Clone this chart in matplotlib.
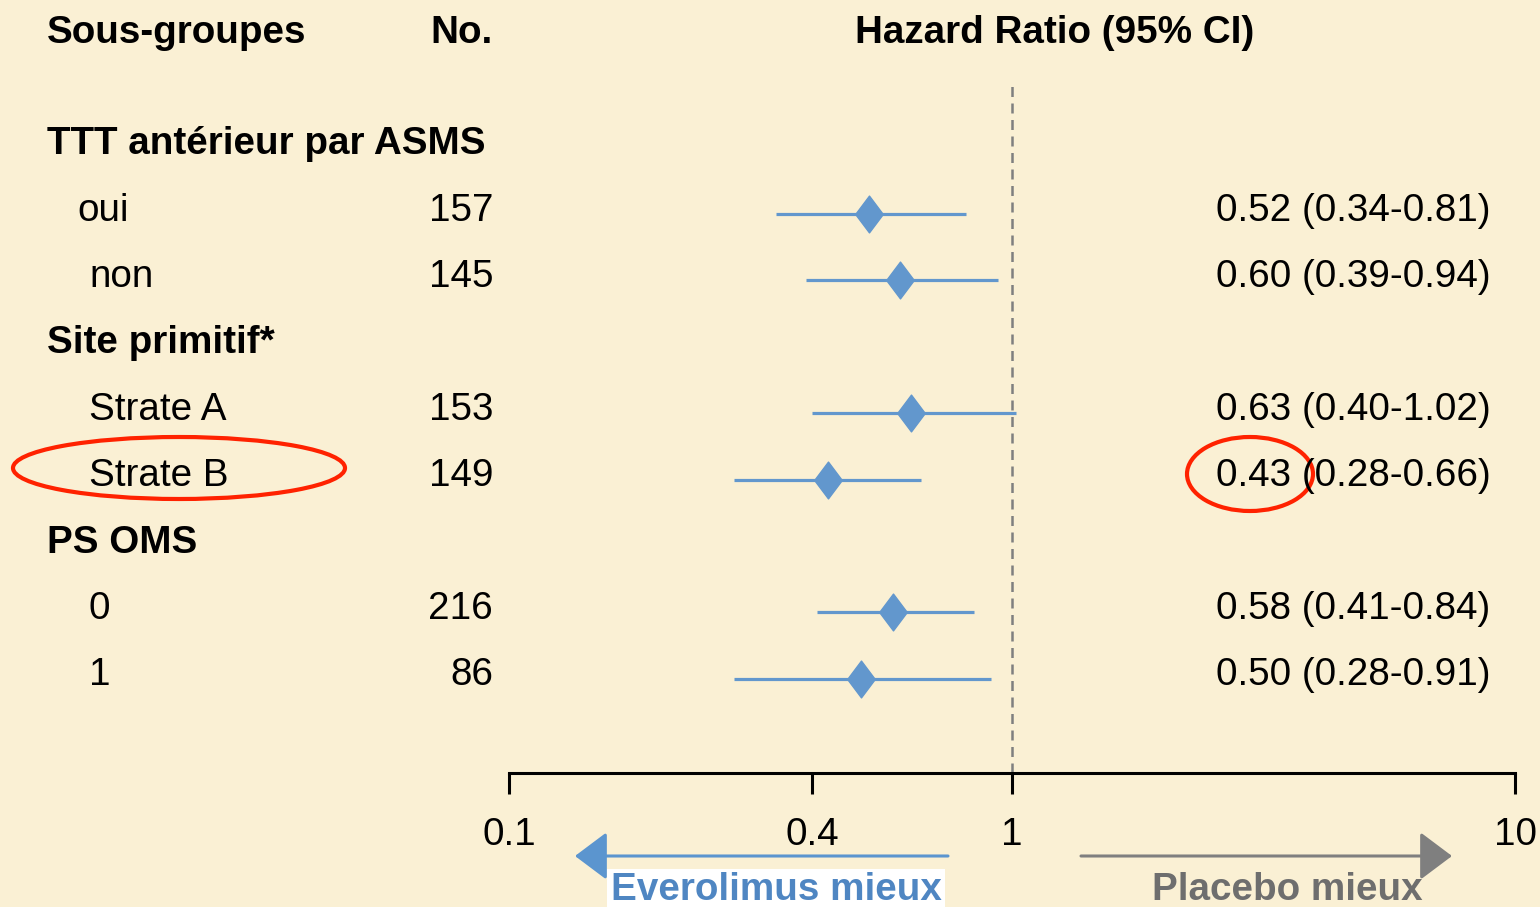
import matplotlib

matplotlib.use('Agg')
import matplotlib.pyplot as plt
import matplotlib.transforms as mtransforms
from matplotlib.patches import Ellipse
from matplotlib.path import Path

plt.rcParams['font.family'] = ['Liberation Sans', 'DejaVu Sans']

# table rows (header rows are bold)
row_labels = ['TTT antérieur par ASMS', 'oui', 'non', 'Site primitif*', 'Strate A', 'Strate B',
              'PS OMS', '0', '1']
row_bold = [True, False, False, True, False, False, True, False, False]
row_indent = [47, 77, 89, 47, 89, 89, 47, 89, 89]

# subgroups with an estimate
sub_rows = [1, 2, 4, 5, 7, 8]
sub_n = ['157', '145', '153', '149', '216', '86']
hr = [0.52, 0.60, 0.63, 0.43, 0.58, 0.50]
ci_low = [0.34, 0.39, 0.40, 0.28, 0.41, 0.28]
ci_high = [0.81, 0.94, 1.02, 0.66, 0.84, 0.91]

x_ticks = [0.1, 0.4, 1, 10]
x_tick_labels = ['0.1', '0.4', '1', '10']

BG = '#FAF0D4'
BLUE = '#6297CD'
FS = 27.8

W, H = 1540, 907
fig = plt.figure(figsize=(W / 100, H / 100), dpi=100)
fig.patch.set_facecolor(BG)

# pixel background axes for text and annotations
ax_bg = fig.add_axes([0, 0, 1, 1], zorder=0)
ax_bg.set_xlim(0, W)
ax_bg.set_ylim(H, 0)
ax_bg.set_facecolor(BG)
ax_bg.axis('off')

# forest axes: log x, rows on y
row0, row_step = 147.6, 66.4
top_px, axis_px = 85, 773
ax = fig.add_axes([509 / W, (H - axis_px) / H, 1006 / W, (axis_px - top_px) / H], zorder=1)
ax.patch.set_alpha(0)
ax.set_xscale('log')
ax.set_xlim(0.1, 10)
ax.set_ylim((axis_px - row0) / row_step, (top_px - row0) / row_step)
for side in ['top', 'left', 'right']:
    ax.spines[side].set_visible(False)
ax.spines['bottom'].set_linewidth(2.2)
ax.set_yticks([])
ax.set_xticks(x_ticks)
ax.set_xticklabels(x_tick_labels)
ax.minorticks_off()
ax.tick_params(axis='x', direction='out', length=15, width=2.2, pad=17, labelsize=FS)

ax.axvline(1, color='#7F7F7F', lw=1.8, ls=(0, (4, 2.6)), zorder=1)

diamond = Path([(0, 1), (0.75, 0), (0, -1), (-0.75, 0), (0, 1)],
               [Path.MOVETO, Path.LINETO, Path.LINETO, Path.LINETO, Path.CLOSEPOLY])
ax.hlines(sub_rows, ci_low, ci_high, color=BLUE, lw=2.3, zorder=2)
ax.plot(hr, sub_rows, ls='none', marker=diamond, ms=26.5, color=BLUE, mec=BLUE, zorder=3)

# text: x in pixels, y in rows
tr = mtransforms.blended_transform_factory(ax_bg.transData, ax.transData)
base = 0.1

ax_bg.text(47, 43, 'Sous-groupes', fontsize=FS, fontweight='bold', va='baseline')
ax_bg.text(493, 43, 'No.', fontsize=FS, fontweight='bold', va='baseline', ha='right')
ax_bg.text(1055, 43, 'Hazard Ratio (95% CI)', fontsize=FS, fontweight='bold', va='baseline',
           ha='center')

for i, (lab, b, x0) in enumerate(zip(row_labels, row_bold, row_indent)):
    ax_bg.text(x0, i + base, lab, transform=tr, fontsize=FS, va='baseline',
               fontweight='bold' if b else 'normal')

for r, n, h, lo, hi in zip(sub_rows, sub_n, hr, ci_low, ci_high):
    ax_bg.text(493, r + base, n, transform=tr, fontsize=FS, va='baseline', ha='right')
    ax_bg.text(1216, r + base, f'{h:.2f} ({lo:.2f}-{hi:.2f})', transform=tr, fontsize=FS,
               va='baseline')

# direction arrows
ax_bg.annotate('', xy=(575, 856), xytext=(948, 856),
               arrowprops=dict(arrowstyle='-|>,head_length=1.0,head_width=0.75',
                               mutation_scale=20, color='#5B95CF', lw=2.2, shrinkA=0, shrinkB=0))
ax_bg.annotate('', xy=(1452, 856), xytext=(1081, 856),
               arrowprops=dict(arrowstyle='-|>,head_length=1.0,head_width=0.75',
                               mutation_scale=20, color='#7F7F7F', lw=2.2, shrinkA=0, shrinkB=0))
ax_bg.text(776, 900, 'Everolimus mieux', fontsize=FS, fontweight='bold', color='#4F86C2',
           ha='center', va='baseline', zorder=5,
           bbox=dict(facecolor='white', edgecolor='none', boxstyle='square,pad=0.08'))
ax_bg.text(1287, 900, 'Placebo mieux', fontsize=FS, fontweight='bold', color='#6E6E6E',
           ha='center', va='baseline')

# highlight circles
ax_bg.add_patch(Ellipse((179, 468), 332, 62, fill=False, ec='#FF2200', lw=3))
ax_bg.add_patch(Ellipse((1250, 474), 126, 74, fill=False, ec='#FF2200', lw=3))

fig.savefig('out.png', dpi=100, facecolor=BG)
